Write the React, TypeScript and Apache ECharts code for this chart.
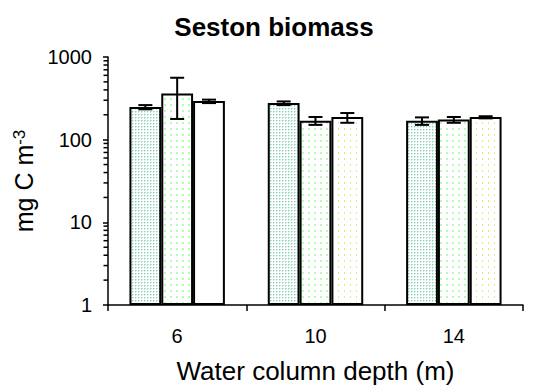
import React, { useEffect, useRef } from "react";
import * as echarts from "echarts";

const categories = ["6", "10", "14"];
const seriesA = [248, 277, 169];
const seriesB = [361, 169, 175];
const seriesC = [293, 188, 188];
const errLowA = [233, 262, 151];
const errHighA = [262, 290, 186];
const errLowB = [178, 151, 160];
const errHighB = [561, 188, 188];
const errLowC = [277, 160, 181];
const errHighC = [305, 210, 192];
const yTickLabels = ["1", "10", "100", "1000"];
const minorTickValues = [2, 3, 4, 5, 6, 7, 8, 9, 20, 30, 40, 50, 60, 70, 80, 90, 200, 300, 400, 500, 600, 700, 800, 900];

const FONT = "'Liberation Sans', Arial, sans-serif";

function makePattern(size: number, dots: Array<[number, number, number, number, string]>) {
  const c = document.createElement("canvas");
  c.width = size;
  c.height = size;
  const ctx = c.getContext("2d")!;
  ctx.fillStyle = "#ffffff";
  ctx.fillRect(0, 0, size, size);
  for (const [x, y, w, h, col] of dots) {
    ctx.fillStyle = col;
    ctx.fillRect(x, y, w, h);
  }
  return { image: c.toDataURL(), repeat: "repeat", imageWidth: size, imageHeight: size } as any;
}

export default function App() {
  const ref = useRef<HTMLDivElement>(null);
  useEffect(() => {
    if (!ref.current) return;
    const chart = echarts.init(ref.current, undefined, { renderer: "svg" });
    const patA = makePattern(3, [
      [0, 0, 1, 1, "#8fd0b4"],
      [1, 0, 1, 1, "#c4eadb"],
      [0, 1, 1, 1, "#c4eadb"],
    ]);
    const patB = makePattern(6, [[2, 2, 2, 2, "#b2ffb2"]]);
    const patC = makePattern(6, [[2, 2, 1, 2, "#dfe98c"]]);
    const gap = 0.31;
    const errSeries = [
      { low: errLowA, high: errHighA, idx: 0 },
      { low: errLowB, high: errHighB, idx: 1 },
      { low: errLowC, high: errHighC, idx: 2 },
    ];
    // rows: [category, low, high, seriesIndex, kind]; kind 0 = error bar, 1 = minor tick
    const overlayData: number[][] = [];
    errSeries.forEach((s) => {
      categories.forEach((_, i) => overlayData.push([i, s.low[i], s.high[i], s.idx, 0]));
    });
    minorTickValues.forEach((v) => overlayData.push([0, v, v, 0, 1]));
    const barStyle = { borderColor: "#000", borderWidth: 2 };
    const option: any = {
      animation: false,
      backgroundColor: "#fff",
      graphic: [
        {
          type: "text",
          x: 274,
          y: 27,
          style: {
            text: "Seston biomass",
            fontSize: 26,
            fontWeight: "bold",
            fontFamily: FONT,
            fill: "#000",
            align: "center",
            verticalAlign: "middle",
          },
        },
      ],
      grid: { left: 108, top: 57, right: 10, bottom: 81 },
      xAxis: {
        type: "category",
        data: categories,
        boundaryGap: true,
        name: "Water column depth (m)",
        nameLocation: "middle",
        nameGap: 53,
        nameTextStyle: { fontSize: 26, fontFamily: FONT, color: "#000" },
        axisLine: { lineStyle: { color: "#000", width: 1.5 } },
        axisTick: { show: true, length: 6, inside: false, lineStyle: { color: "#000", width: 1.5 } },
        axisLabel: { fontSize: 20, fontFamily: FONT, color: "#000", margin: 21 },
      },
      yAxis: {
        type: "log",
        logBase: 10,
        min: 1,
        max: 1000,
        name: "{a|mg C m}{b|-3}",
        nameLocation: "middle",
        nameGap: 65,
        nameTextStyle: {
          color: "#000",
          rich: {
            a: { fontSize: 25, fontFamily: FONT, color: "#000", lineHeight: 27 },
            b: { fontSize: 17, fontFamily: FONT, color: "#000", verticalAlign: "top", lineHeight: 17 },
          },
        },
        axisLine: { show: true, lineStyle: { color: "#000", width: 1.5 } },
        axisTick: { show: true, length: 5, inside: false, lineStyle: { color: "#000", width: 1.5 } },
        splitLine: { show: false },
        axisLabel: {
          fontSize: 20,
          fontFamily: FONT,
          color: "#000",
          margin: 16,
          formatter: (v: number) => {
            const i = Math.round(Math.log10(v));
            return yTickLabels[i] ?? String(v);
          },
        },
      },
      series: [
        {
          type: "bar",
          data: seriesA,
          barGap: "0%",
          barCategoryGap: "31%",
          itemStyle: { ...barStyle, color: patA },
        },
        {
          type: "bar",
          data: seriesB,
          barGap: "0%",
          barCategoryGap: "31%",
          itemStyle: { ...barStyle, color: patB },
        },
        {
          type: "bar",
          data: seriesC.map((v, i) => (i === 0 ? { value: v, itemStyle: { color: "#ffffff" } } : v)),
          barGap: "0%",
          barCategoryGap: "31%",
          itemStyle: { ...barStyle, color: patC },
        },
        {
          type: "custom",
          data: overlayData,
          clip: false,
          z: 10,
          renderItem: (params: any, api: any) => {
            const c = api.value(0);
            const band = api.coord([1, 1])[0] - api.coord([0, 1])[0];
            const yl = api.coord([c, api.value(1)])[1];
            const yh = api.coord([c, api.value(2)])[1];
            if (api.value(4) === 1) {
              const x0 = api.coord([0, 1])[0] - band / 2;
              return {
                type: "line",
                shape: { x1: x0 - 4.5, y1: yl, x2: x0, y2: yl },
                style: { stroke: "#000", lineWidth: 1.5 },
              };
            }
            const bw = (band * (1 - gap)) / 3;
            const x = api.coord([c, 1])[0] + (api.value(3) - 1) * bw;
            const cap = 7;
            const st = { stroke: "#000", lineWidth: 2 };
            return {
              type: "group",
              children: [
                { type: "line", shape: { x1: x, y1: yl, x2: x, y2: yh }, style: st },
                { type: "line", shape: { x1: x - cap, y1: yl, x2: x + cap, y2: yl }, style: st },
                { type: "line", shape: { x1: x - cap, y1: yh, x2: x + cap, y2: yh }, style: st },
              ],
            };
          },
        },
      ],
    };
    chart.setOption(option);
    return () => chart.dispose();
  }, []);
  return <div ref={ref} style={{ position: "fixed", left: 0, top: 0, width: 533, height: 389 }} />;
}
